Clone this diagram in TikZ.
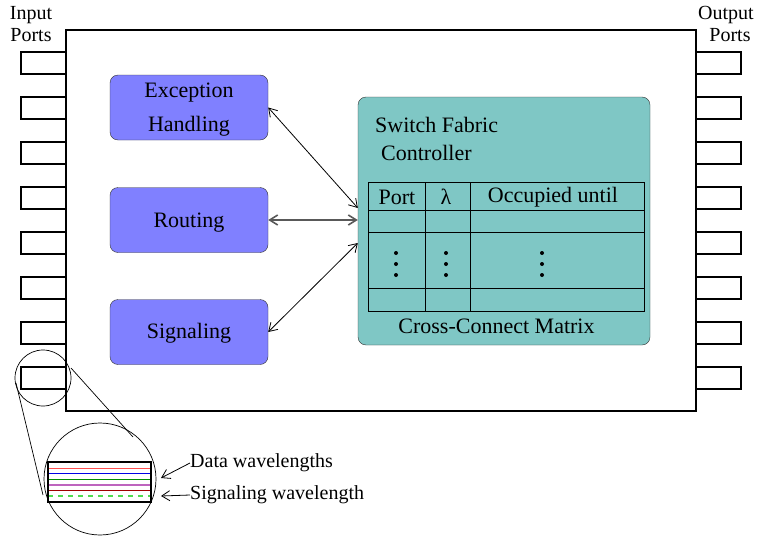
\documentclass[tikz,border=0pt]{standalone}
\usepackage{fontspec}
\setmainfont{Liberation Serif}
\usetikzlibrary{arrows.meta}
\definecolor{boxblue}{RGB}{128,128,255}
\definecolor{boxteal}{RGB}{127,199,197}
\definecolor{wlred}{RGB}{255,80,80}
\definecolor{wlblue}{RGB}{0,0,230}
\definecolor{wlgreen}{RGB}{0,140,0}
\definecolor{wlpurple}{RGB}{190,100,190}
\definecolor{wldark}{RGB}{160,0,0}
\definecolor{wllight}{RGB}{80,220,80}
\tikzset{
  port/.style={draw, line width=2pt, minimum width=45pt, minimum height=22pt, inner sep=0pt},
  fnbox/.style={draw=black!80, fill=boxblue, rounded corners=8pt, minimum width=158pt, minimum height=65pt, inner sep=0pt},
  lbl/.style={inner sep=0pt, font=\fontsize{22}{26}\selectfont},
  fntext/.style={inner sep=0pt, align=center, font=\fontsize{22}{34}\selectfont},
  small/.style={inner sep=0pt, font=\fontsize{20}{24}\selectfont},
  biarrow/.style={{Straight Barb[length=8pt,width=10pt]}-{Straight Barb[length=8pt,width=10pt]}, line width=0.8pt},
  tip/.style={-{Straight Barb[length=8pt,width=10pt]}, line width=0.8pt},
}
\begin{document}
\begin{tikzpicture}[x=1pt,y=-1pt]
\useasboundingbox (0,0) rectangle (757,535);
% main chassis
\node[draw, line width=2pt, minimum width=630pt, minimum height=381pt, inner sep=0pt] (main) at (381,220.5) {};
% ports
\foreach \i in {1,...,8} {
  \node[port] (in\i) at (43.5, {63+45*(\i-1)}) {};
  \node[port] (out\i) at (718.5, {63+45*(\i-1)}) {};
}
\node[small] (inlbl1) at (31,15) {Input};
\node[small] (inlbl2) at (31,35) {Ports};
\node[small] (outlbl1) at (726,15) {Output};
\node[small] (outlbl2) at (730,35) {Ports};
% functional boxes
\node[fnbox] (exc) at (189,107.5) {};
\node[fnbox] (rou) at (189,220) {};
\node[fnbox] (sig) at (189,332) {};
\node[fntext] (exct) at ([yshift=-2pt]exc.center) {Exception\\Handling};
\node[fntext] (rout) at ([yshift=-2.5pt]rou.center) {Routing};
\node[fntext] (sigt) at ([yshift=-1.5pt]sig.center) {Signaling};
% switch fabric controller
\node[draw=black!80, fill=boxteal, rounded corners=8pt, minimum width=292pt, minimum height=248pt, inner sep=0pt] (sfc) at (504,221) {};
\node[lbl, anchor=west] (sfct1) at (375,125) {Switch Fabric};
\node[lbl, anchor=west] (sfct2) at (381,153) {Controller};
% table
\draw[line width=0.9pt] (368,182) rectangle (644,311);
\foreach \yy in {210,232,288} \draw[line width=0.9pt] (368,\yy) -- (644,\yy);
\foreach \xx in {425,470} \draw[line width=0.9pt] (\xx,182) -- (\xx,311);
\node[lbl] (hport) at (397,197) {Port};
\node[lbl] (hlam) at (446,197) {λ};
\node[lbl] (hocc) at (553,197) {Occupied until};
\foreach \xx in {396,446,542} \foreach \yy in {253,264,275} \fill (\xx,\yy) circle (2pt);
\node[lbl] (ccm) at (496.5,326) {Cross-Connect Matrix};
% arrows
\draw[biarrow] (exc.east) -- ([yshift=13pt]sfc.west);
\draw[biarrow, draw=black!65, line width=1.6pt] (rou.east) -- (rou.east -| sfc.west);
\draw[biarrow] (sig.east) -- ([yshift=-22pt]sfc.west);
% magnifier
\node[draw, circle, minimum size=56pt, inner sep=0pt, line width=0.7pt] (mag) at (43,378) {};
\node[draw, circle, minimum size=112pt, inner sep=0pt, line width=0.7pt] (big) at (100,479) {};
\draw[line width=0.7pt] (16,383) -- (43,495);
\draw[line width=0.7pt] (71,368) -- (133,437);
% fiber
\draw[line width=0.9pt, wlred] (48,468.3) -- (151,468.3);
\draw[line width=0.9pt, wlblue] (48,473.5) -- (151,473.5);
\draw[line width=0.9pt, wlgreen] (48,479) -- (151,479);
\draw[line width=1.8pt, wlpurple] (48,485) -- (151,485);
\draw[line width=0.9pt, wldark] (48,490.3) -- (151,490.3);
\draw[line width=1.2pt, wllight, dash pattern=on 5pt off 5pt] (48,496) -- (151,496);
\node[draw, line width=1.8pt, minimum width=103pt, minimum height=40pt, inner sep=0pt] (fiber) at (99.5,482) {};
\node[small, anchor=west] (dw) at (190,463) {Data wavelengths};
\node[small, anchor=west] (sw) at (190,495) {Signaling wavelength};
\draw[tip] (dw.west) -- (161,478);
\draw[tip] (sw.west) -- (161,496);
\end{tikzpicture}
\end{document}
